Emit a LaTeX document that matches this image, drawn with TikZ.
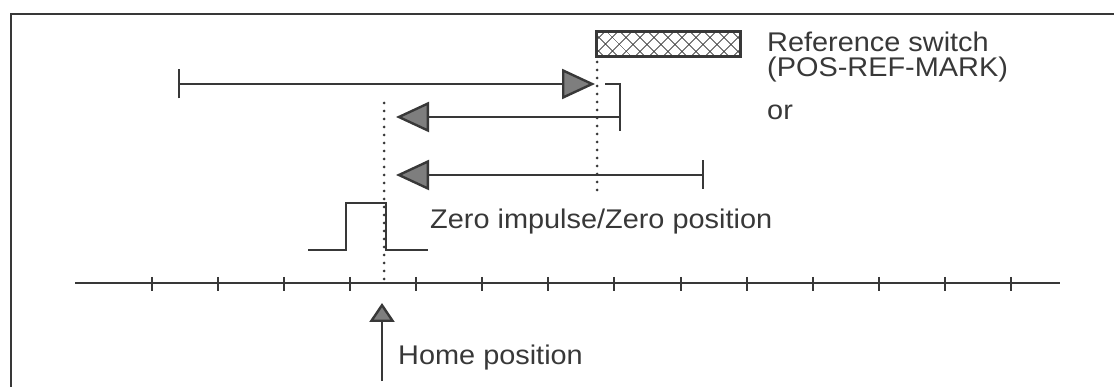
\documentclass[tikz,border=0pt]{standalone}
\usepackage{fontspec}
\setmainfont[FakeStretch=1.07]{Liberation Sans}
\usetikzlibrary{arrows.meta, patterns.meta}

\definecolor{ink}{HTML}{383838}
\definecolor{headfill}{HTML}{7E7E7E}

\tikzset{
  ln/.style={draw=ink, line width=2.4pt},
  dots/.style={draw=ink, line width=3pt, line cap=round, dash pattern=on 0pt off 8pt},
  bigtip/.style={-{Triangle[length=33pt,width=30pt,fill=headfill]}},
  bartail/.style={{Bar[width=29pt]}-{Triangle[length=33pt,width=30pt,fill=headfill]}},
  lbl/.style={anchor=base west, inner sep=0pt, text=ink, font=\fontsize{27}{32}\selectfont},
}

\begin{document}
\begin{tikzpicture}[x=1pt,y=-1pt]
\useasboundingbox (0,0) rectangle (1114,387);
\draw[ink, line width=1.6pt] (1114,14) -- (11,14) -- (11,387);

% reference switch cam
\foreach \ang in {45,-45}
  \fill[pattern={Lines[angle=\ang,distance=10.5pt,line width=1pt]}, pattern color=ink]
    (596,32) rectangle (740,57);
\draw[ink, line width=3pt] (596,32) rectangle (740,57);

% search runs
\coordinate (a1s) at (178,84);
\coordinate (a1e) at (595,84);
\draw[ln, bartail] (a1s) -- (a1e);

\coordinate (stub) at (605,84);
\coordinate (a2s) at (620,117);
\coordinate (a2e) at (396,117);
\draw[ln] (stub) -- (620,84) -- (620,131);
\draw[ln, bigtip] (a2s) -- (a2e);

\coordinate (a3s) at (704,175);
\coordinate (a3e) at (396,175);
\draw[ln, bartail] (a3s) -- (a3e);

% edges of cam and zero mark
\draw[dots] (597,62) -- (597,190);
\draw[dots] (384,103) -- (384,280);

% zero pulse
\draw[ln] (308,250) -- (346,250) -- (346,203) -- (386,203) -- (386,250) -- (428,250);

% axis
\coordinate (ax0) at (75,283);
\coordinate (ax1) at (1060,283);
\draw[ln] (ax0) -- (ax1);
\foreach \i in {0,...,13}
  \draw[ink, line width=2pt] (151.7+66.1*\i,277) -- (151.7+66.1*\i,291);

% home position
\coordinate (hp) at (382,381);
\coordinate (hptip) at (382,303);
\draw[ln, -{Triangle[length=19pt,width=25pt,fill=headfill]}] (hp) -- (hptip);

\node[lbl] (refsw) at (767,52) {Reference switch};
\node[lbl] (refmark) at (767,77) {(POS-REF-MARK)};
\node[lbl] (or) at (767,120) {or};
\node[lbl] (zero) at (430,229) {Zero impulse/Zero position};
\node[lbl] (home) at (398,364) {Home position};
\end{tikzpicture}
\end{document}
